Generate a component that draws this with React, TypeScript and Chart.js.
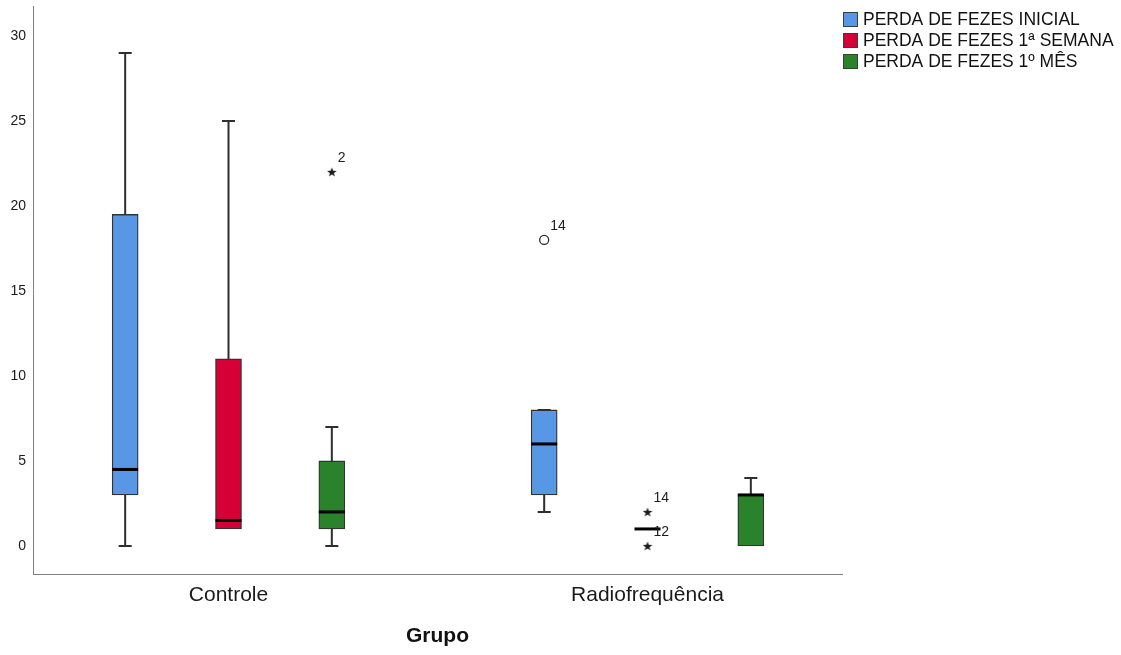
import { useEffect, useRef } from 'react';
import { Chart, registerables } from 'chart.js';

Chart.register(...registerables);

// Groups on the horizontal axis
const groups = ['Controle', 'Radiofrequência'];

// Series shown side by side inside each group
const seriesLabels = ['PERDA DE FEZES INICIAL', 'PERDA DE FEZES 1ª SEMANA', 'PERDA DE FEZES 1º MÊS'];
const seriesColors = ['#5797E5', '#D70036', '#2A832A'];

// Five-number summaries per group: [min, q1, median, q3, max]
const inicialStats = [
  [0, 3, 4.5, 19.5, 29],
  [2, 3, 6, 8, 8],
];
const semanaStats = [
  [1, 1, 1.5, 11, 25],
  [1, 1, 1, 1, 1],
];
const mesStats = [
  [0, 1, 2, 5, 7],
  [0, 0, 3, 3, 4],
];

// Outlying cases: group index, value, case number, extreme (star) or mild (circle)
const inicialOutliers = [{ group: 1, value: 18, id: '14', extreme: false }];
const semanaOutliers = [
  { group: 1, value: 2, id: '14', extreme: true },
  { group: 1, value: 0, id: '12', extreme: true },
];
const mesOutliers = [{ group: 0, value: 22, id: '2', extreme: true }];

const yTicks = [0, 5, 10, 15, 20, 25, 30];

const statsBySeries = [inicialStats, semanaStats, mesStats];
const outliersBySeries = [inicialOutliers, semanaOutliers, mesOutliers];

// Layout constants
const SERIES_OFFSET = 0.2466; // distance between neighbouring boxes, in x units
const BOX_WIDTH = 26;
const CAP_WIDTH = 13;
const FONT = '"Liberation Sans", Arial, sans-serif';

function makeStar(size: number, color: string): HTMLCanvasElement {
  const c = document.createElement('canvas');
  c.width = size;
  c.height = size;
  const ctx = c.getContext('2d')!;
  const cx = size / 2;
  const cy = size / 2 + 0.5;
  const R = size / 2;
  const r = R * 0.42;
  ctx.fillStyle = color;
  ctx.beginPath();
  for (let i = 0; i < 10; i++) {
    const a = -Math.PI / 2 + (i * Math.PI) / 5;
    const rad = i % 2 ? r : R;
    ctx.lineTo(cx + rad * Math.cos(a), cy + rad * Math.sin(a));
  }
  ctx.closePath();
  ctx.fill();
  return c;
}

const boxPlotPlugin = {
  id: 'boxPlotParts',
  afterDatasetsDraw(chart: any) {
    const { ctx } = chart;
    const xs = chart.scales.x;
    const ys = chart.scales.y;
    ctx.save();
    chart.data.datasets.forEach((ds: any) => {
      if (ds.stats) {
        ds.stats.forEach((st: number[], g: number) => {
          const [min, q1, med, q3, max] = st;
          const px = xs.getPixelForValue(ds.data[g].x);
          const pMin = ys.getPixelForValue(min);
          const pQ1 = ys.getPixelForValue(q1);
          const pMed = ys.getPixelForValue(med);
          const pQ3 = ys.getPixelForValue(q3);
          const pMax = ys.getPixelForValue(max);
          // whiskers and caps
          ctx.strokeStyle = '#2e2e2e';
          ctx.lineWidth = 2;
          ctx.beginPath();
          ctx.moveTo(px, pQ3);
          ctx.lineTo(px, pMax);
          ctx.moveTo(px - CAP_WIDTH / 2, pMax);
          ctx.lineTo(px + CAP_WIDTH / 2, pMax);
          if (min < q1) {
            ctx.moveTo(px, pQ1);
            ctx.lineTo(px, pMin);
            ctx.moveTo(px - CAP_WIDTH / 2, pMin);
            ctx.lineTo(px + CAP_WIDTH / 2, pMin);
          }
          ctx.stroke();
          // median
          ctx.strokeStyle = '#000';
          ctx.lineWidth = 3;
          ctx.beginPath();
          ctx.moveTo(px - BOX_WIDTH / 2, pMed);
          ctx.lineTo(px + BOX_WIDTH / 2, pMed);
          ctx.stroke();
        });
      }
      if (ds.caseIds) {
        ctx.fillStyle = '#1e1e1e';
        ctx.font = `14px ${FONT}`;
        ctx.textAlign = 'left';
        ctx.textBaseline = 'middle';
        ds.data.forEach((pt: any, i: number) => {
          const px = xs.getPixelForValue(pt.x);
          const py = ys.getPixelForValue(pt.y);
          ctx.fillText(ds.caseIds[i], px + 6, py - 14);
        });
      }
    });
    ctx.restore();
  },
  afterDraw(chart: any) {
    // legend at the top right, beside the plot
    const { ctx, chartArea } = chart;
    ctx.save();
    let row = 0;
    chart.data.datasets.forEach((ds: any) => {
      if (!ds.stats) return;
      const x0 = chartArea.right + 1;
      const y0 = chartArea.top + 6 + row * 21;
      ctx.fillStyle = ds.backgroundColor;
      ctx.fillRect(x0, y0, 15, 15);
      ctx.strokeStyle = '#3c3c3c';
      ctx.lineWidth = 1;
      ctx.strokeRect(x0 + 0.5, y0 + 0.5, 14, 14);
      ctx.fillStyle = '#111';
      ctx.font = `17.5px ${FONT}`;
      ctx.textAlign = 'left';
      ctx.textBaseline = 'middle';
      ctx.fillText(ds.label, x0 + 20, y0 + 8);
      row++;
    });
    ctx.restore();
  },
};

export default function App() {
  const canvasRef = useRef<HTMLCanvasElement | null>(null);

  useEffect(() => {
    const canvas = canvasRef.current;
    if (!canvas) return;
    const star = makeStar(10, '#1e1e1e');

    const boxDatasets = seriesLabels.map((label, s) => ({
      type: 'bar',
      label,
      stats: statsBySeries[s],
      data: groups.map((_, g) => ({
        x: g + 1 + (s - 1) * SERIES_OFFSET,
        y: [statsBySeries[s][g][1], statsBySeries[s][g][3]],
      })),
      backgroundColor: seriesColors[s],
      borderColor: '#333333',
      borderWidth: 1.3,
      borderSkipped: false,
      barThickness: BOX_WIDTH,
      grouped: false,
      order: 2,
    }));

    const outlierDatasets = outliersBySeries.map((list, s) => ({
      type: 'scatter',
      label: seriesLabels[s] + ' (outliers)',
      caseIds: list.map((o) => o.id),
      data: list.map((o) => ({ x: o.group + 1 + (s - 1) * SERIES_OFFSET, y: o.value })),
      pointStyle: list.map((o) => (o.extreme ? star : 'circle')),
      pointRadius: 4.5,
      pointBorderColor: '#2a2a2a',
      pointBorderWidth: 1.3,
      pointBackgroundColor: 'rgba(255,255,255,0)',
      order: 1,
    }));

    const chart = new Chart(canvas, {
      type: 'bar',
      data: { datasets: [...boxDatasets, ...outlierDatasets] as any },
      options: {
        responsive: false,
        animation: false,
        layout: { padding: { top: 6, right: 279, bottom: 0, left: 0 } },
        plugins: {
          legend: { display: false },
          tooltip: { enabled: false },
        },
        scales: {
          x: {
            type: 'linear',
            min: 0.5334,
            max: 2.4642,
            offset: false,
            grid: { display: false, drawTicks: false },
            border: { display: true, color: '#808080', width: 1 },
            afterBuildTicks: (scale: any) => {
              scale.ticks = groups.map((_, i) => ({ value: i + 1 }));
            },
            afterFit: (scale: any) => {
              scale.height = 81;
              scale.paddingLeft = 0;
              scale.paddingRight = 0;
            },
            ticks: {
              autoSkip: false,
              maxRotation: 0,
              padding: 9,
              color: '#1a1a1a',
              font: { family: FONT, size: 21 },
              callback: (v: any) => groups[Math.round(Number(v)) - 1] ?? '',
            },
            title: {
              display: true,
              text: 'Grupo',
              color: '#111',
              font: { family: FONT, size: 21, weight: 'bold' },
              padding: { top: 0, bottom: 6 },
            },
          },
          y: {
            type: 'linear',
            min: -1.65,
            max: 31.76,
            grid: { display: false, drawTicks: false },
            border: { display: true, color: '#808080', width: 1 },
            afterBuildTicks: (scale: any) => {
              scale.ticks = yTicks.map((v) => ({ value: v }));
            },
            afterFit: (scale: any) => {
              scale.width = 33;
              scale.paddingTop = 0;
              scale.paddingBottom = 0;
            },
            ticks: {
              padding: 7,
              color: '#1a1a1a',
              font: { family: FONT, size: 14 },
            },
          },
        },
      } as any,
      plugins: [boxPlotPlugin],
    });

    return () => chart.destroy();
  }, []);

  return (
    <div style={{ position: 'absolute', left: 0, top: 0, width: 1121, height: 655, background: '#fff' }}>
      <canvas ref={canvasRef} width={1121} height={655} />
    </div>
  );
}
